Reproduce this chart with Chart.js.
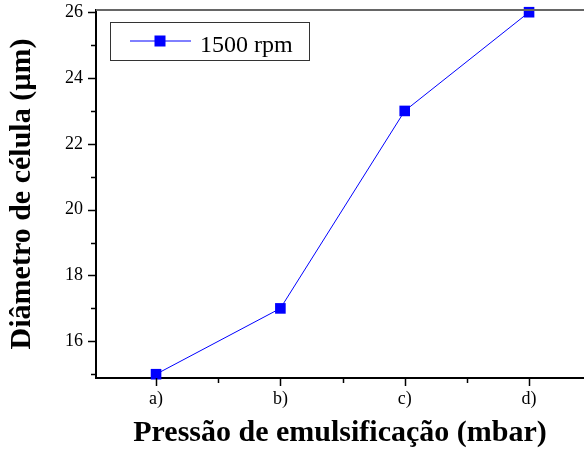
<!DOCTYPE html>
<html lang="pt">
<head>
<meta charset="utf-8">
<title>Diâmetro de célula</title>
<script src="https://cdn.jsdelivr.net/npm/chart.js@4/dist/chart.umd.min.js"></script>
<style>
    html, body { margin: 0; padding: 0; background: #fff; overflow: hidden; }
    #caixa { width: 584px; height: 451px; position: relative; }
</style>
</head>
<body>
<div id="caixa"><canvas id="graficaDiametro"></canvas></div>
<script>
"use strict";
/* DADOS */
const categorias = ["a)", "b)", "c)", "d)"];
const posicoes = [0, 1, 2, 3];
const diametro1500 = [15, 17, 23, 26];
const rotuloSerie = "1500 rpm";
const ticksY = [16, 18, 20, 22, 24, 26];

const fonte = "'Liberation Serif', 'Times New Roman', serif";
const azul = "#0000ff";

/* TICKS (maiores e menores, para fora) */
const ticksPlugin = {
    id: "ticksFora",
    afterDraw(chart) {
        const ctx = chart.ctx;
        const area = chart.chartArea;
        const x = chart.scales.x;
        const y = chart.scales.y;
        ctx.save();
        ctx.strokeStyle = "#000";
        ctx.lineWidth = 1.5;
        x.ticks.forEach(t => {
            const px = Math.round(x.getPixelForValue(t.value)) + 0.5;
            const len = Number.isInteger(t.value) ? 8 : 5;
            ctx.beginPath();
            ctx.moveTo(px, area.bottom);
            ctx.lineTo(px, area.bottom + len);
            ctx.stroke();
        });
        y.ticks.forEach(t => {
            if (!Number.isInteger(t.value))
                return;
            const py = Math.round(y.getPixelForValue(t.value)) + 0.5;
            const len = ticksY.includes(t.value) ? 8 : 5;
            ctx.beginPath();
            ctx.moveTo(area.left, py);
            ctx.lineTo(area.left - len, py);
            ctx.stroke();
        });
        /* linha de cima */
        ctx.strokeStyle = "#666";
        ctx.lineWidth = 2;
        ctx.beginPath();
        ctx.moveTo(area.left, area.top);
        ctx.lineTo(area.right, area.top);
        ctx.stroke();
        ctx.restore();
    }
};

/* LEGENDA COM CAIXA */
const legendaPlugin = {
    id: "legendaCaixa",
    afterDraw(chart) {
        const ctx = chart.ctx;
        const ds = chart.data.datasets[0];
        ctx.save();
        ctx.strokeStyle = "#333";
        ctx.lineWidth = 1;
        ctx.strokeRect(110.5, 22.5, 199, 38);
        ctx.strokeStyle = ds.borderColor;
        ctx.lineWidth = 1;
        ctx.beginPath();
        ctx.moveTo(130, 41);
        ctx.lineTo(191, 41);
        ctx.stroke();
        ctx.fillStyle = ds.pointBackgroundColor;
        ctx.fillRect(154.5, 35.5, 11, 11);
        ctx.fillStyle = "#000";
        ctx.font = "24px " + fonte;
        ctx.textBaseline = "alphabetic";
        ctx.fillText(ds.label, 200, 51.5);
        ctx.restore();
    }
};

/* sem folgas extras nos eixos */
function semFolga(s) {
    s.paddingTop = 0;
    s.paddingBottom = 0;
    s.paddingLeft = 0;
    s.paddingRight = 0;
}

/* GRÁFICO */
function inicializarGrafica() {
    const canvas = document.getElementById("graficaDiametro");
    const pontos = posicoes.map((p, i) => ({ x: p, y: diametro1500[i] }));

    new Chart(canvas, {
        type: "line",
        data: {
            datasets: [
                {
                    label: rotuloSerie,
                    data: pontos,
                    borderColor: azul,
                    borderWidth: 1,
                    pointStyle: "rect",
                    pointRadius: 7.5,
                    pointBorderWidth: 0,
                    pointBackgroundColor: azul,
                    pointBorderColor: azul,
                    tension: 0,
                    clip: false
                }
            ]
        },
        plugins: [ticksPlugin, legendaPlugin],
        options: {
            responsive: true,
            maintainAspectRatio: false,
            animation: false,
            layout: { autoPadding: false, padding: { top: 10, right: 0, left: 0, bottom: 0 } },
            plugins: {
                legend: { display: false },
                tooltip: { enabled: false }
            },
            scales: {
                x: {
                    type: "linear",
                    min: -0.483,
                    max: 3.442,
                    afterFit: s => { s.height = 73; semFolga(s); },
                    grid: { display: true, drawOnChartArea: false, drawTicks: false },
                    border: { display: true, color: "#000", width: 2 },
                    ticks: {
                        stepSize: 0.5,
                        includeBounds: false,
                        autoSkip: false,
                        maxRotation: 0,
                        padding: 10,
                        color: "#000",
                        font: { family: fonte, size: 18 },
                        callback: v => Number.isInteger(v) ? categorias[v] : ""
                    },
                    title: {
                        display: true,
                        text: "Pressão de emulsificação (mbar)",
                        color: "#000",
                        font: { family: fonte, size: 30, weight: "bold" },
                        padding: { top: 0, bottom: 0 }
                    }
                },
                y: {
                    min: 14.885,
                    max: 26.067,
                    afterFit: s => { s.width = 96; semFolga(s); },
                    grid: { display: true, drawOnChartArea: false, drawTicks: false },
                    border: { display: true, color: "#000", width: 2 },
                    ticks: {
                        stepSize: 1,
                        includeBounds: false,
                        autoSkip: false,
                        padding: 13,
                        color: "#000",
                        font: { family: fonte, size: 18 },
                        callback: v => ticksY.includes(v) ? String(v) : ""
                    },
                    title: {
                        display: true,
                        text: "Diâmetro de célula (µm)",
                        color: "#000",
                        font: { family: fonte, size: 30, weight: "bold" },
                        padding: { top: 4, bottom: 0 }
                    }
                }
            }
        }
    });
}

document.addEventListener("DOMContentLoaded", () => {
    inicializarGrafica();
});
</script>
</body>
</html>
